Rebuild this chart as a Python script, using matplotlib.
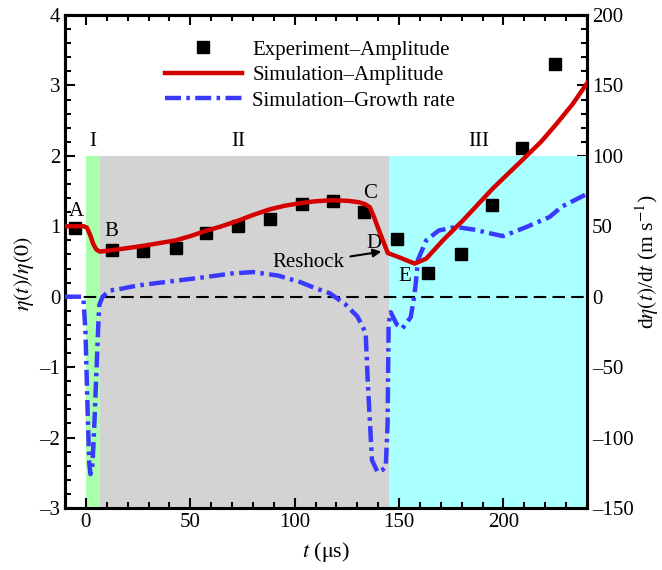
import matplotlib
matplotlib.use("Agg")
import matplotlib.pyplot as plt
from matplotlib.ticker import MultipleLocator

plt.rcParams['font.family'] = ['Liberation Serif', 'DejaVu Serif']
plt.rcParams['mathtext.fontset'] = 'stix'

# Experimental amplitude
exp_t = [-5, 12.5, 27.5, 43, 57.5, 73, 88, 103.5, 118.5, 133, 149, 164, 179.5, 194.5, 209, 224.5]
exp_a = [0.97, 0.67, 0.65, 0.69, 0.90, 1.00, 1.11, 1.31, 1.36, 1.20, 0.82, 0.33, 0.60, 1.30, 2.11, 3.31]

# Simulated amplitude
sim_t = [-10, -1, 0.5, 2, 3.5, 5, 6.7, 15, 27, 35, 43, 50, 57, 65, 73, 80, 88, 95, 103, 110, 118, 126, 131,
         134, 136, 138, 140, 142.5, 144.6, 150, 157.5, 163, 171, 180.5, 195, 209, 218, 225, 233, 240]
sim_a = [1.00, 1.00, 0.98, 0.88, 0.75, 0.67, 0.64, 0.67, 0.72, 0.76, 0.80, 0.86, 0.93, 1.00, 1.08, 1.16,
         1.24, 1.29, 1.33, 1.355, 1.37, 1.36, 1.34, 1.31, 1.27, 1.13, 0.97, 0.78, 0.62, 0.56, 0.47, 0.54,
         0.80, 1.08, 1.54, 1.94, 2.20, 2.44, 2.73, 3.03]

# Simulated growth rate (m/s)
gr_t = [-10, -2, -1.2, -0.2, 0.8, 1.6, 2.2, 3.0, 3.8, 4.6, 5.4, 6.0, 6.4, 8, 11.5, 14.7, 25, 38.6, 55, 70, 80,
        92, 102.4, 110, 116.7, 124, 130, 132.5, 134, 135, 137, 139.7, 142, 143.6, 144.5, 145, 146, 149,
        151.6, 155.6, 157.2, 158, 159, 163, 169, 177, 186.6, 192, 199.7, 205, 211, 222, 228, 234, 240]
gr_v = [0, 0, -1, -25, -80, -118, -126, -122, -100, -70, -40, -18, -6, 0, 4.5, 5, 8, 10.5, 13.5, 16.5, 17.5,
        15, 10.5, 6, 2.5, -5, -14, -21, -26, -60, -116, -124.5, -123, -121, -90, -19, -11, -20,
        -22.5, -14.5, 0, 9.5, 26, 40, 47, 49.5, 47.5, 45.5, 43, 46, 49.5, 56.5, 64, 68.5, 73]

fig = plt.figure(figsize=(6.62, 5.70), dpi=100)
ax = fig.add_axes([0.0982, 0.1088, 0.7885, 0.8649])
ax2 = ax.twinx()

# shaded regions
ax.axvspan(0, 6.7, ymin=0, ymax=5/7, color='#aaffaa', lw=0, zorder=0)
ax.axvspan(6.7, 145.3, ymin=0, ymax=5/7, color='#d3d3d3', lw=0, zorder=0)
ax.axvspan(145.3, 240, ymin=0, ymax=5/7, color='#aaffff', lw=0, zorder=0)

ax.axhline(0, color='black', lw=1.5, dashes=(6, 3), zorder=2)

sq, = ax.plot(exp_t, exp_a, 's', color='black', ms=9, zorder=3)
rl, = ax.plot(sim_t, sim_a, '-', color='#d40000', lw=3.2, zorder=4)

ax.set_zorder(ax2.get_zorder() + 1)
ax.patch.set_visible(False)
ax2.patch.set_visible(False)

ax2.set_ylim(-150, 200)
# growth rate drawn in the right-axis data coordinates
ax.plot(gr_t, gr_v, color='#3a3aff', lw=3.2, dashes=(3.6, 1.2, 0.8, 1.2), zorder=3.5,
        transform=ax2.transData)
bl_handle = plt.Line2D([], [], color='#3a3aff', lw=3.2, dashes=(3.6, 1.2, 0.8, 1.2))

ax.set_xlim(-10, 240)
ax.set_ylim(-3, 4)

ax.xaxis.set_major_locator(MultipleLocator(50))
ax.xaxis.set_minor_locator(MultipleLocator(10))
ax.yaxis.set_major_locator(MultipleLocator(1))
ax.yaxis.set_minor_locator(MultipleLocator(0.2))
ax2.yaxis.set_major_locator(MultipleLocator(50))
ax2.yaxis.set_minor_locator(MultipleLocator(10))

ax.tick_params(which='both', direction='in', top=True, right=False, labelsize=15, width=1.5)
ax.tick_params(which='major', length=7)
ax.tick_params(which='minor', length=4)
ax2.tick_params(which='both', direction='in', labelsize=15, width=1.5)
ax2.tick_params(which='major', length=7)
ax2.tick_params(which='minor', length=4)

def fmt(v):
    s = f"{v:g}"
    return s.replace('-', '\u2013')

ax.set_xticks([0, 50, 100, 150, 200])
ax.set_xticklabels([fmt(v) for v in [0, 50, 100, 150, 200]])
ax.set_yticks([-3, -2, -1, 0, 1, 2, 3, 4])
ax.set_yticklabels([fmt(v) for v in [-3, -2, -1, 0, 1, 2, 3, 4]])
ax2.set_yticks([-150, -100, -50, 0, 50, 100, 150, 200])
ax2.set_yticklabels([fmt(v) for v in [-150, -100, -50, 0, 50, 100, 150, 200]])

for a in (ax, ax2):
    for s in a.spines.values():
        s.set_linewidth(2.2)

ax.set_xlabel(r'$t$ ($\mathrm{\mu}$s)', fontsize=16, labelpad=6)
ax.set_ylabel(r'$\eta(t)/\eta(0)$', fontsize=16, labelpad=2)
ax.yaxis.label.set_y(0.475)
ax2.set_ylabel(r'd$\eta(t)$/d$t$ (m s$^{-1}$)', fontsize=15.5, labelpad=0)

# region labels
ax.text(3.3, 2.2, 'I', fontsize=15, ha='center', va='center')
ax.text(73, 2.2, 'II', fontsize=15, ha='center', va='center')
ax.text(188, 2.2, 'III', fontsize=15, ha='center', va='center')

# point labels
ax.text(-4.8, 1.21, 'A', fontsize=15, ha='center', va='center')
ax.text(12.4, 0.92, 'B', fontsize=15, ha='center', va='center')
ax.text(136, 1.47, 'C', fontsize=15, ha='center', va='center')
ax.text(137.8, 0.76, 'D', fontsize=15, ha='center', va='center')
ax.text(152.6, 0.29, 'E', fontsize=15, ha='center', va='center')
ax.annotate('Reshock', xy=(141.5, 0.64), xytext=(124, 0.48), fontsize=15, ha='right', va='center',
            arrowprops=dict(arrowstyle='-|>', color='black', lw=1.5, shrinkA=2, shrinkB=0,
                            mutation_scale=12))

leg = ax.legend([sq, rl, bl_handle], ['Experiment–Amplitude', 'Simulation–Amplitude', 'Simulation–Growth rate'],
                loc='upper left', bbox_to_anchor=(0.175, 0.966), frameon=False, fontsize=15,
                handlelength=3.7, handletextpad=0.5, labelspacing=0.28, borderaxespad=0)

fig.savefig('out.png', dpi=100)
